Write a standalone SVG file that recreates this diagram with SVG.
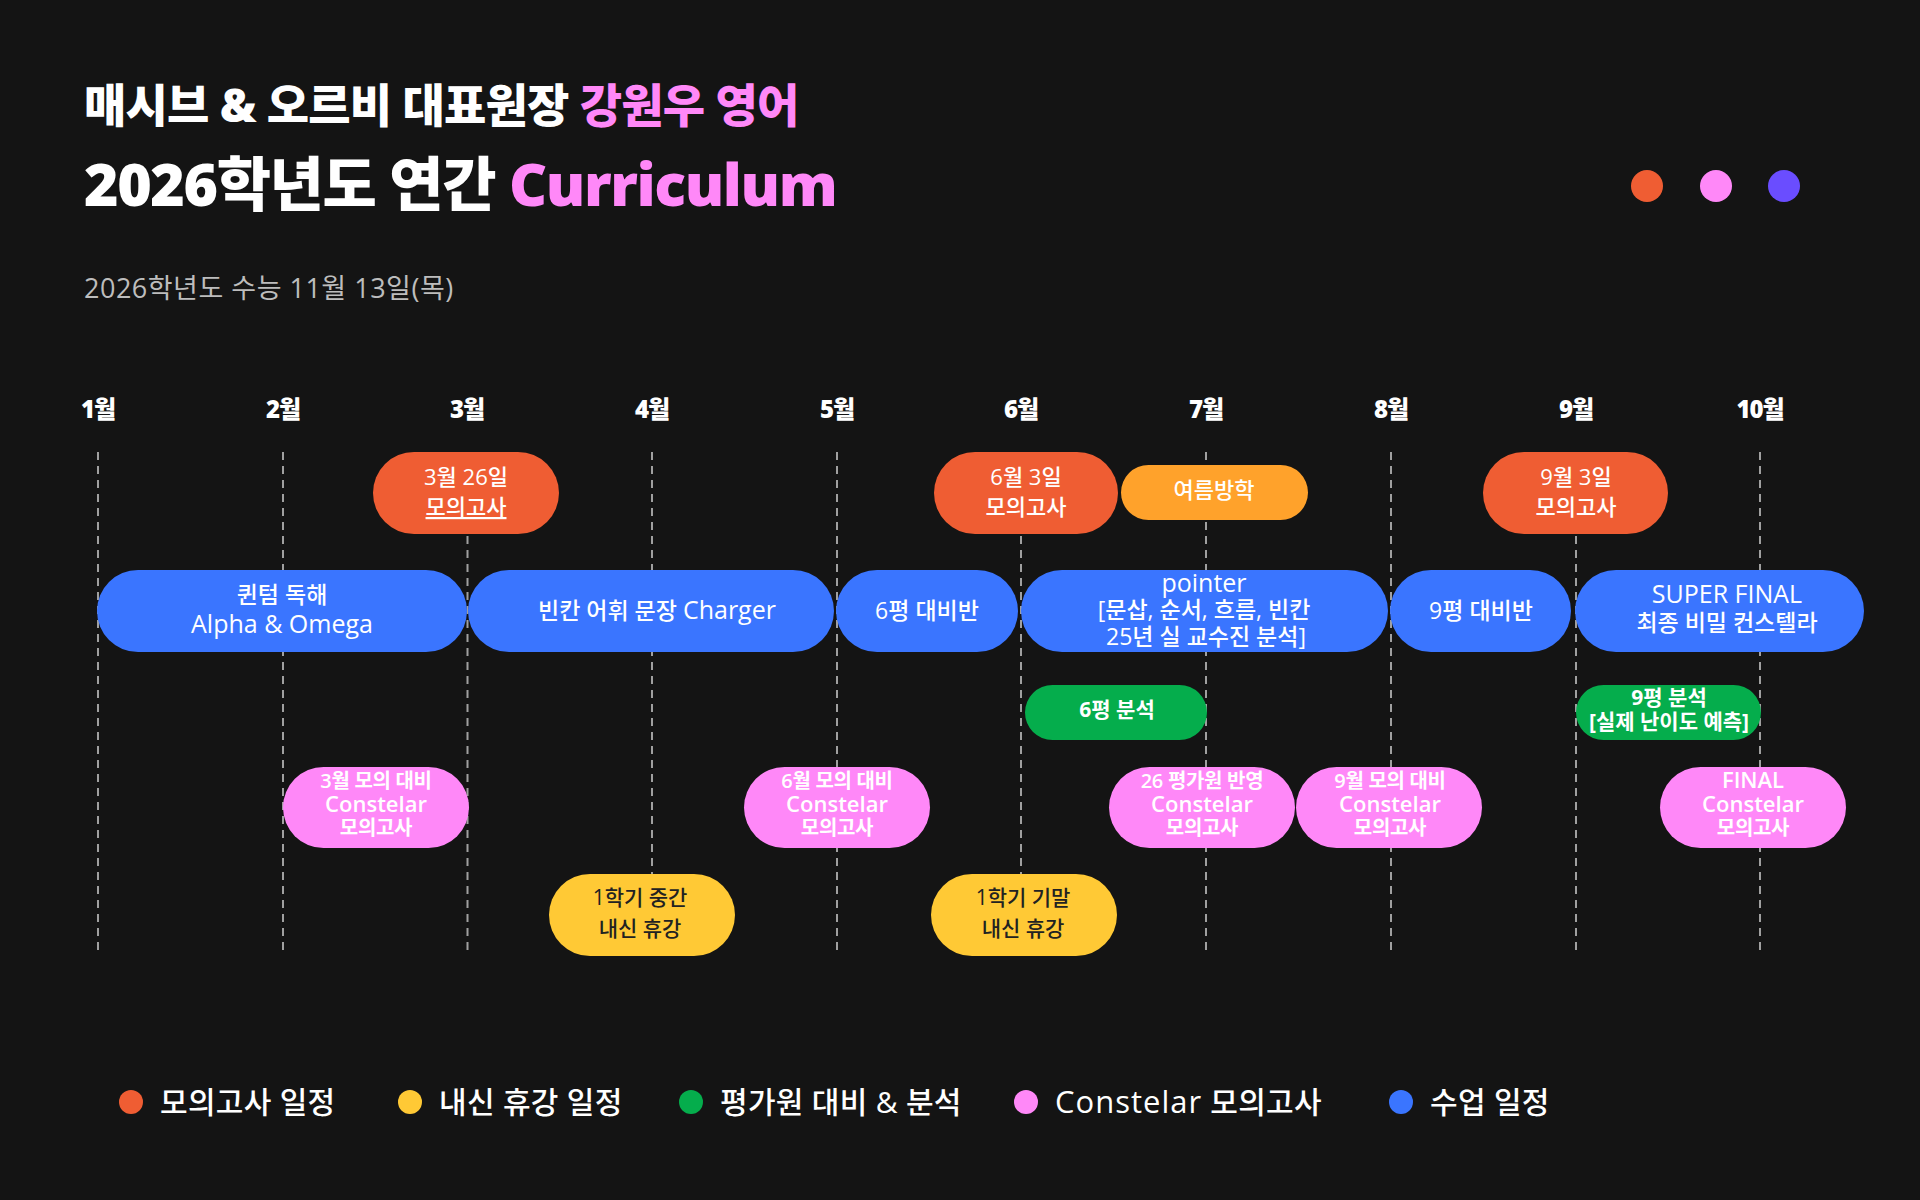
<svg xmlns="http://www.w3.org/2000/svg" width="1920" height="1200" viewBox="0 0 1920 1200">
<style>
text{font-family:"Open Sans","Noto Sans CJK KR",sans-serif;}
.t1{font-size:46px;font-weight:900;fill:#fff;letter-spacing:-0.8px;}
.t2{font-size:59px;font-weight:800;fill:#fff;letter-spacing:-1.4px;}
.pk{fill:#FF88F8;}
.sub{font-size:27px;font-weight:400;fill:#bdbdbd;letter-spacing:0.5px;}
.mon{font-size:24px;font-weight:800;fill:#fff;text-anchor:middle;letter-spacing:-1px;}
.grid{stroke:#a0a0a0;stroke-width:2;stroke-dasharray:8 6;fill:none;}
.or{fill:#EF5D33;}
.am{fill:#FFA22B;}
.bl{fill:#3A75FF;}
.gr{fill:#05AD4C;}
.pi{fill:#FF88F8;}
.ye{fill:#FFC935;}
.pt{font-size:22px;fill:#fff;text-anchor:middle;font-weight:500;}
.bt{font-size:23px;fill:#fff;text-anchor:middle;font-weight:500;}
.lt{font-size:25px;}
.gt{font-size:21px;fill:#fff;text-anchor:middle;font-weight:700;}
.it{font-size:20px;fill:#fff;text-anchor:middle;font-weight:600;letter-spacing:-0.3px;}
.ct{font-size:22px;letter-spacing:0;}
.yt{font-size:21px;fill:#222;text-anchor:middle;font-weight:500;}
.lg{font-size:30px;fill:#fff;font-weight:500;letter-spacing:0.3px;}
.lgl{font-size:31px;letter-spacing:1px;}
</style>
<rect width="1920" height="1200" fill="#141414"/>

<g id="header">
<text class="t1" x="84" y="122">매시브 &amp; 오르비 대표원장 <tspan class="pk">강원우 영어</tspan></text>
<text class="t2" x="84" y="206">2026학년도 연간 <tspan class="pk">Curriculum</tspan></text>
<text class="sub" x="84" y="298">2026학년도 수능 11월 13일(목)</text>
<circle cx="1647" cy="186" r="16" fill="#EF5D33"/>
<circle cx="1716" cy="186" r="16" fill="#FF88F8"/>
<circle cx="1784" cy="186" r="16" fill="#6A4DFF"/>
</g>

<g id="months">
<text class="mon" x="98" y="418">1월</text>
<text class="mon" x="283" y="418">2월</text>
<text class="mon" x="467" y="418">3월</text>
<text class="mon" x="652" y="418">4월</text>
<text class="mon" x="837" y="418">5월</text>
<text class="mon" x="1021" y="418">6월</text>
<text class="mon" x="1206" y="418">7월</text>
<text class="mon" x="1391" y="418">8월</text>
<text class="mon" x="1576" y="418">9월</text>
<text class="mon" x="1760" y="418">10월</text>
</g>

<g id="connectors">
<line class="grid" x1="98" y1="452" x2="98" y2="956"/>
<line class="grid" x1="283" y1="452" x2="283" y2="956"/>
<line class="grid" x1="467.5" y1="452" x2="467.5" y2="956"/>
<line class="grid" x1="652" y1="452" x2="652" y2="956"/>
<line class="grid" x1="837" y1="452" x2="837" y2="956"/>
<line class="grid" x1="1021" y1="452" x2="1021" y2="956"/>
<line class="grid" x1="1206" y1="452" x2="1206" y2="956"/>
<line class="grid" x1="1391" y1="452" x2="1391" y2="956"/>
<line class="grid" x1="1576" y1="452" x2="1576" y2="956"/>
<line class="grid" x1="1760" y1="452" x2="1760" y2="956"/>
</g>

<g id="exam-mar">
<rect class="or" x="373" y="452" width="186" height="82" rx="41"/>
<text class="pt" x="466" y="485" font-weight="800">3월 26일</text>
<text class="pt" x="466" y="515" font-weight="800" text-decoration="underline">모의고사</text>
</g>
<g id="exam-jun">
<rect class="or" x="934" y="452" width="184" height="82" rx="41"/>
<text class="pt" x="1026" y="485">6월 3일</text>
<text class="pt" x="1026" y="515">모의고사</text>
</g>
<g id="summer">
<rect class="am" x="1121" y="465" width="187" height="55" rx="27.5"/>
<text class="pt" x="1214" y="498" font-weight="600">여름방학</text>
</g>
<g id="exam-sep">
<rect class="or" x="1483" y="452" width="185" height="82" rx="41"/>
<text class="pt" x="1576" y="485">9월 3일</text>
<text class="pt" x="1576" y="515">모의고사</text>
</g>

<g id="class-alpha">
<rect class="bl" x="97" y="570" width="370" height="82" rx="41"/>
<text class="bt" x="282" y="603">퀸텀 독해</text>
<text class="bt lt" x="282" y="633">Alpha &amp; Omega</text>
</g>
<g id="class-charger">
<rect class="bl" x="468" y="570" width="366" height="82" rx="41"/>
<text class="bt" x="657" y="619">빈칸 어휘 문장 <tspan class="lt">Charger</tspan></text>
</g>
<g id="class-6">
<rect class="bl" x="836" y="570" width="182" height="82" rx="41"/>
<text class="bt" x="927" y="619">6평 대비반</text>
</g>
<g id="class-pointer">
<rect class="bl" x="1021" y="570" width="367" height="82" rx="41"/>
<text class="bt lt" x="1204" y="592">pointer</text>
<text class="bt" x="1204" y="618">[문삽, 순서, 흐름, 빈칸</text>
<text class="bt" x="1206" y="645">25년 실 교수진 분석]</text>
</g>
<g id="class-9">
<rect class="bl" x="1390" y="570" width="181" height="82" rx="41"/>
<text class="bt" x="1481" y="619">9평 대비반</text>
</g>
<g id="class-final">
<rect class="bl" x="1575" y="570" width="289" height="82" rx="41"/>
<text class="bt lt" x="1727" y="603">SUPER FINAL</text>
<text class="bt" x="1727" y="631">최종 비밀 컨스텔라</text>
</g>

<g id="analysis-6">
<rect class="gr" x="1025" y="685" width="182" height="55" rx="27.5"/>
<text class="gt" x="1117" y="717">6평 분석</text>
</g>
<g id="analysis-9">
<rect class="gr" x="1576" y="685" width="185" height="55" rx="27.5"/>
<text class="gt" x="1669" y="705" font-size="19">9평 분석</text>
<text class="gt" x="1669" y="729" font-size="19">[실제 난이도 예측]</text>
</g>

<g id="constelar-mar">
<rect class="pi" x="283" y="767" width="186" height="81" rx="40.5"/>
<text class="it" x="376" y="788">3월 모의 대비</text>
<text class="it ct" x="376" y="812">Constelar</text>
<text class="it" x="376" y="835">모의고사</text>
</g>
<g id="constelar-jun">
<rect class="pi" x="744" y="767" width="186" height="81" rx="40.5"/>
<text class="it" x="837" y="788">6월 모의 대비</text>
<text class="it ct" x="837" y="812">Constelar</text>
<text class="it" x="837" y="835">모의고사</text>
</g>
<g id="constelar-26">
<rect class="pi" x="1109" y="767" width="186" height="81" rx="40.5"/>
<text class="it" x="1202" y="788">26 평가원 반영</text>
<text class="it ct" x="1202" y="812">Constelar</text>
<text class="it" x="1202" y="835">모의고사</text>
</g>
<g id="constelar-sep">
<rect class="pi" x="1296" y="767" width="186" height="81" rx="40.5"/>
<text class="it" x="1390" y="788">9월 모의 대비</text>
<text class="it ct" x="1390" y="812">Constelar</text>
<text class="it" x="1390" y="835">모의고사</text>
</g>
<g id="constelar-final">
<rect class="pi" x="1660" y="767" width="186" height="81" rx="40.5"/>
<text class="it ct" x="1753" y="788">FINAL</text>
<text class="it ct" x="1753" y="812">Constelar</text>
<text class="it" x="1753" y="835">모의고사</text>
</g>

<g id="break-mid">
<rect class="ye" x="549" y="874" width="186" height="82" rx="41"/>
<text class="yt" x="640" y="905">1학기 중간</text>
<text class="yt" x="640" y="936">내신 휴강</text>
</g>
<g id="break-final">
<rect class="ye" x="931" y="874" width="186" height="82" rx="41"/>
<text class="yt" x="1023" y="905">1학기 기말</text>
<text class="yt" x="1023" y="936">내신 휴강</text>
</g>

<g id="legend">
<circle cx="131" cy="1102" r="12" fill="#EF5D33"/>
<text class="lg" x="160" y="1113">모의고사 일정</text>
<circle cx="410" cy="1102" r="12" fill="#FFC935"/>
<text class="lg" x="439" y="1113">내신 휴강 일정</text>
<circle cx="691" cy="1102" r="12" fill="#05AD4C"/>
<text class="lg" x="720" y="1113">평가원 대비 &amp; 분석</text>
<circle cx="1026" cy="1102" r="12" fill="#FF88F8"/>
<text class="lg" x="1055" y="1113"><tspan class="lgl">Constelar</tspan> 모의고사</text>
<circle cx="1401" cy="1102" r="12" fill="#3A75FF"/>
<text class="lg" x="1430" y="1113">수업 일정</text>
</g>
</svg>
